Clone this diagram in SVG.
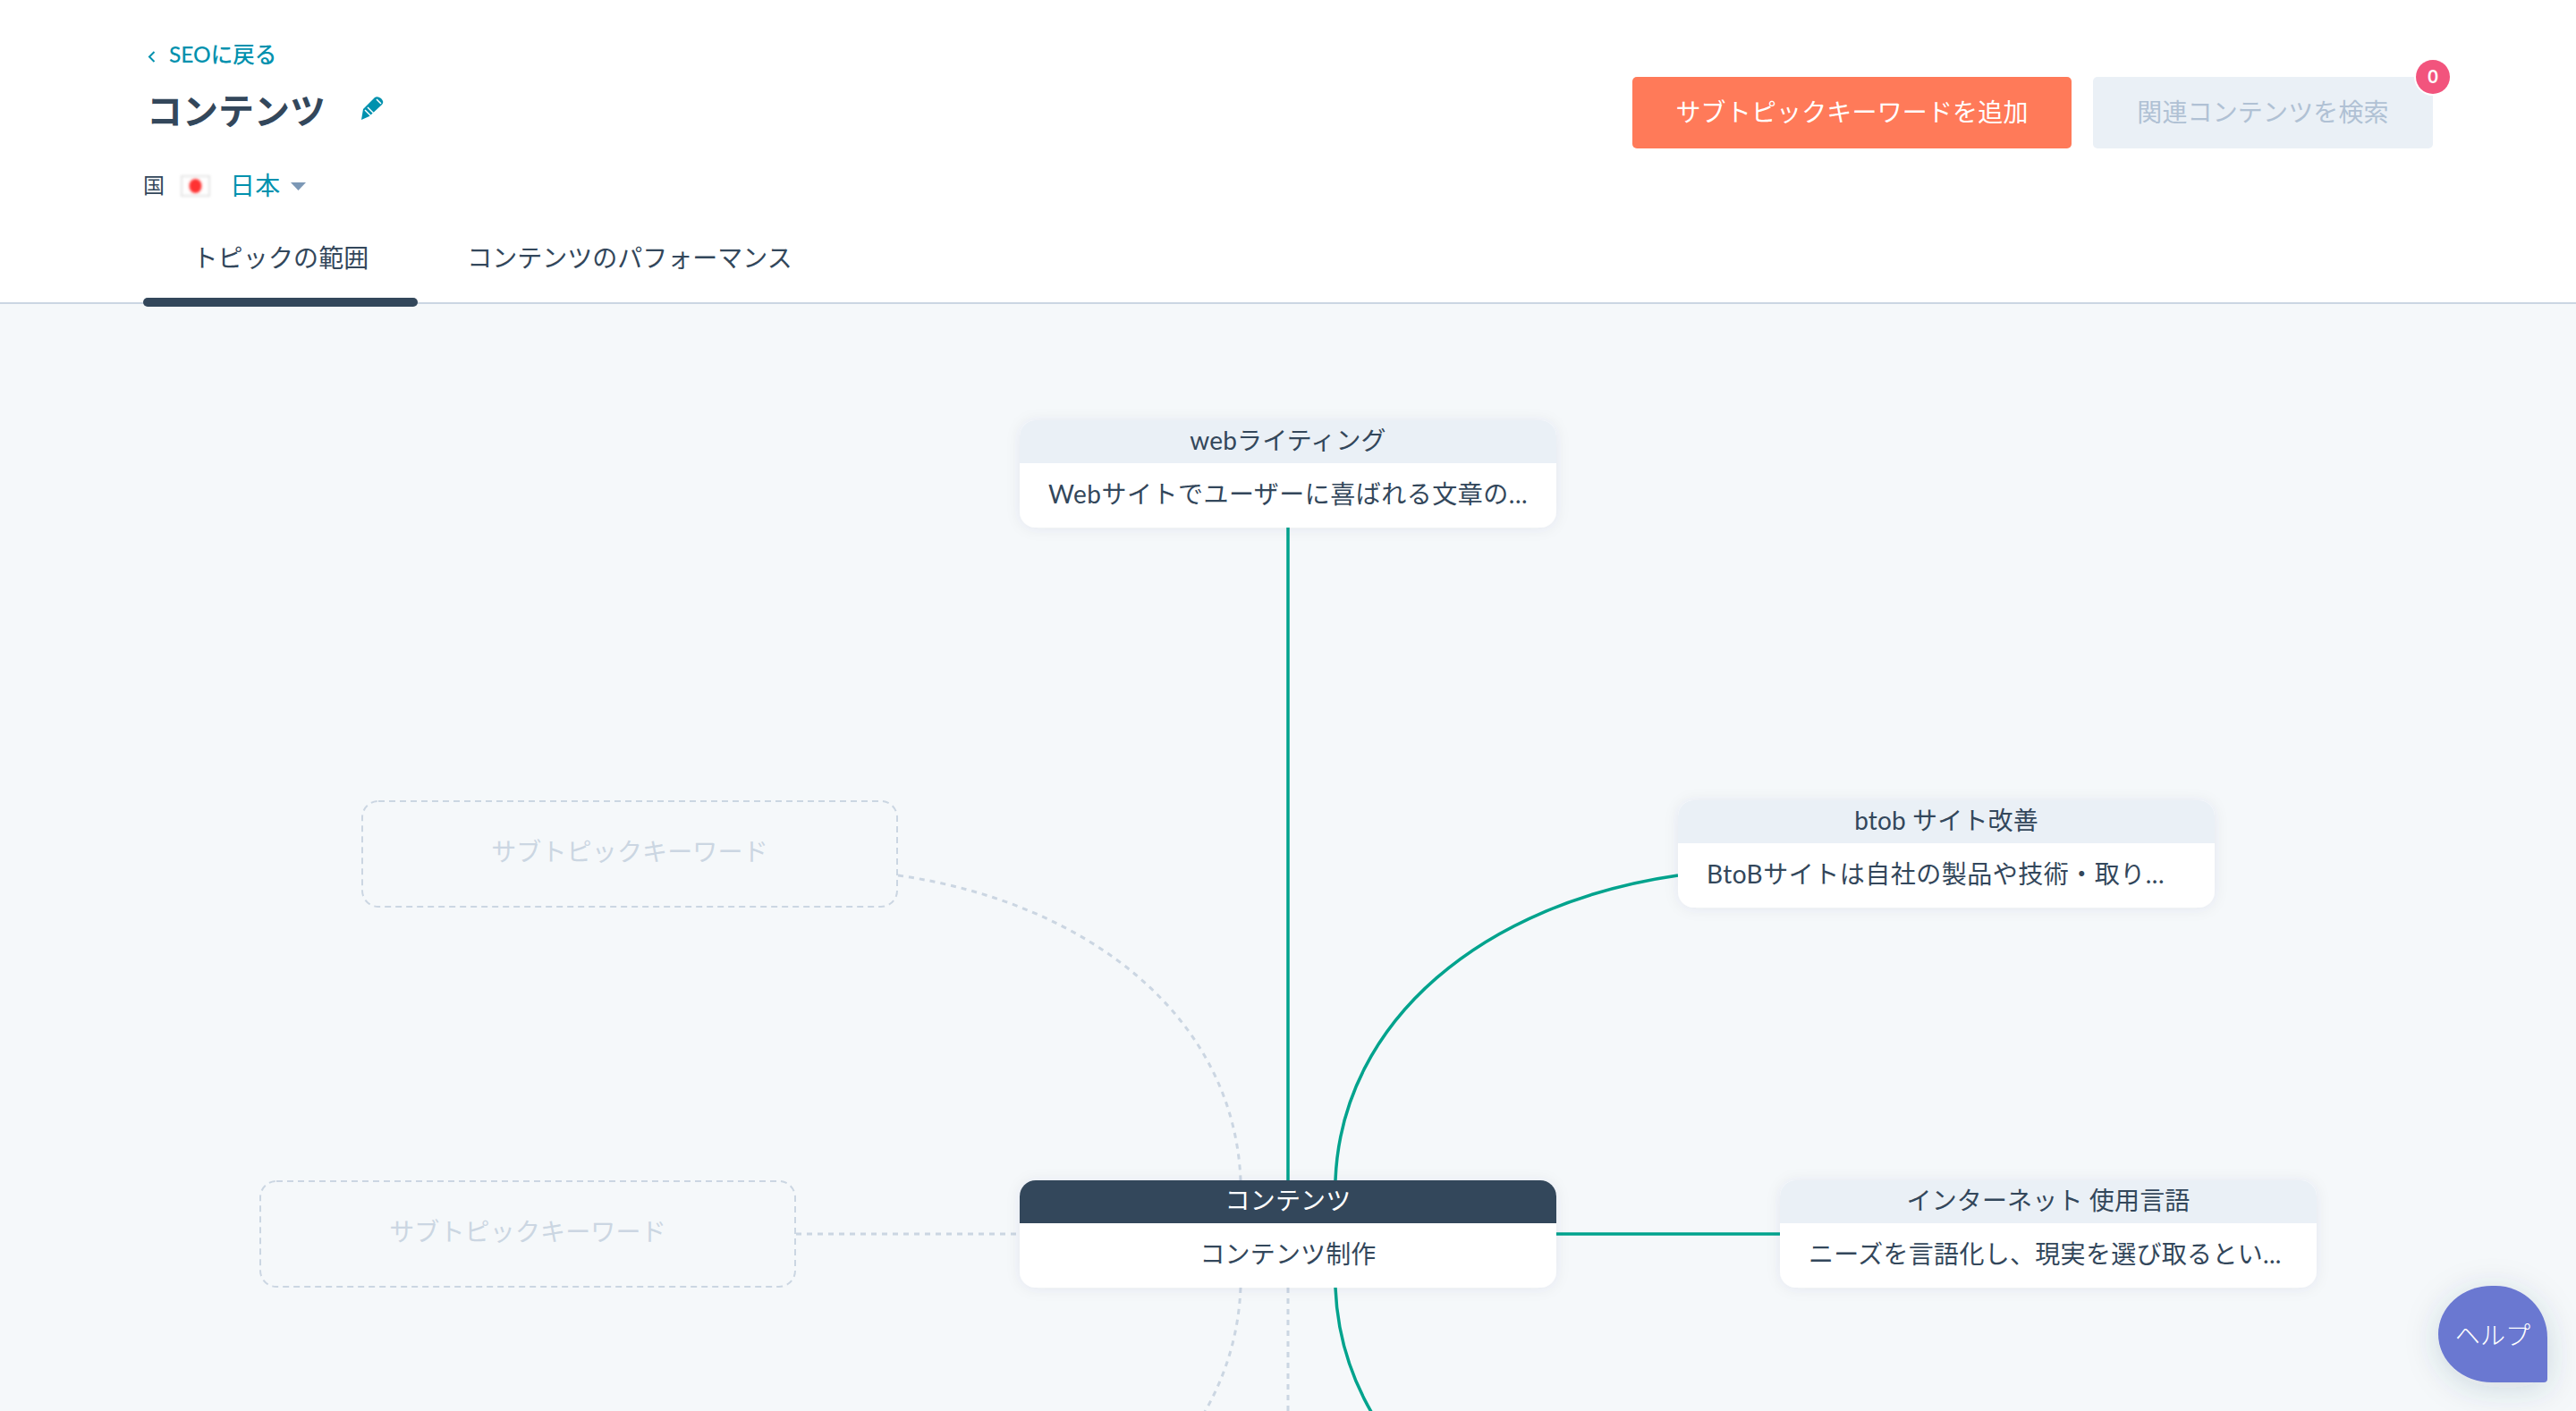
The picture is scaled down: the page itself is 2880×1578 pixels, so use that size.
<svg xmlns="http://www.w3.org/2000/svg" width="2880" height="1578" viewBox="0 0 2880 1578">
<style>
text{font-family:"Lato","Noto Sans CJK JP","Noto Sans",sans-serif;font-size:28px;fill:#33475b;font-weight:400;letter-spacing:.15px}
.m{text-anchor:middle}
.teal{fill:#0091ae}
.sub{fill:#cbd6e2}
.g{fill:none;stroke:#00a38d;stroke-width:3.500}
.d{fill:none;stroke:#cbd6e2;stroke-width:3;stroke-dasharray:6 6}
.ghost{fill:#f5f8fa;stroke:#cbd6e2;stroke-width:2;stroke-dasharray:7 5}
</style>
<defs>
<filter id="sh" x="-10%" y="-20%" width="120%" height="140%"><feDropShadow dx="0" dy="1" stdDeviation="8" flood-color="#33475b" flood-opacity="0.07"/></filter>
<filter id="hs" x="-60%" y="-60%" width="220%" height="220%"><feDropShadow dx="0" dy="6" stdDeviation="18" flood-color="#33475b" flood-opacity="0.18"/></filter>
<filter id="bl" x="-50%" y="-50%" width="200%" height="200%"><feGaussianBlur stdDeviation="1.500"/></filter>
<clipPath id="c1"><rect x="1140" y="470" width="600" height="120" rx="18"/></clipPath>
<clipPath id="c2"><rect x="1876" y="895" width="600" height="120" rx="18"/></clipPath>
<clipPath id="c3"><rect x="1990" y="1320" width="600" height="120" rx="18"/></clipPath>
<clipPath id="c4"><rect x="1140" y="1320" width="600" height="120" rx="18"/></clipPath>
</defs>
<rect width="2880" height="1578" fill="#f5f8fa"/>
<g id="header">
<rect width="2880" height="339" fill="#fff"/>
<rect y="338" width="2880" height="2" fill="#cbd6e2"/>
<path d="M172.500 58 L167 63.500 L172.500 69" fill="none" stroke="#0091ae" stroke-width="2"/>
<text class="teal" x="189" y="70" style="font-size:24.500px;font-weight:500;letter-spacing:0">SEOに戻る</text>
<text x="164" y="139" style="font-size:40px;font-weight:700;letter-spacing:0">コンテンツ</text>
<path d="M404 134 L406 122 L419 109 Q422 107 426 110 Q430 114 427 117 L413 130 Z" fill="#0091ae"/>
<path d="M408 123 L416 131 M411 120 L419 128 M421 111 L426 116" stroke="#fff" stroke-width="1.500" fill="none"/>
<text x="160" y="216" style="font-size:24px">国</text>
<rect x="203" y="197" width="31" height="22" fill="#fff" stroke="#e4e4e4" stroke-width="2" filter="url(#bl)"/>
<ellipse cx="218.500" cy="208" rx="7" ry="8" fill="#f33" filter="url(#bl)"/>
<text class="teal" x="257" y="218" style="font-size:28px">日本</text>
<path d="M325 204 H342 L333.500 213 Z" fill="#7c98b6"/>
<text class="m" x="314" y="299">トピックの範囲</text>
<text class="m" x="704" y="299" style="letter-spacing:0">コンテンツのパフォーマンス</text>
<rect x="160" y="333" width="307" height="10" rx="5" fill="#33475b"/>
</g>
<g id="btn-add">
<rect x="1825" y="86" width="491" height="80" rx="5" fill="#ff7a59"/>
<text class="m" x="2070.500" y="136" style="fill:#fff">サブトピックキーワードを追加</text>
</g>
<g id="btn-search">
<rect x="2340" y="86" width="380" height="80" rx="5" fill="#eaf0f6"/>
<text class="m" x="2530" y="136" style="fill:#b0c1d4">関連コンテンツを検索</text>
<circle cx="2720" cy="86" r="21" fill="#fff"/>
<circle cx="2720" cy="86" r="19" fill="#f2547d"/>
<text class="m" x="2720" y="93" style="fill:#fff;font-size:20px;font-weight:700">0</text>
</g>
<g id="connectors">
<path class="g" d="M1440 590 V1320"/>
<path class="g" d="M1876 979 C1660 1010 1500 1140 1493 1320"/>
<path class="g" d="M1740 1380 H1990"/>
<path class="g" d="M1493 1440 C1500 1620 1660 1750 1876 1781"/>
<path class="d" d="M1004 979 C1220 1010 1380 1140 1387 1320"/>
<path class="d" d="M890 1380 H1140"/>
<path class="d" d="M1387 1440 C1380 1620 1220 1750 1004 1781"/>
<path class="d" d="M1440 1440 V1578"/>
</g>
<g id="node-web">
<rect x="1140" y="470" width="600" height="120" rx="18" fill="#fff" filter="url(#sh)"/>
<rect x="1140" y="470" width="600" height="48" fill="#eaf0f6" clip-path="url(#c1)"/>
<text class="m" x="1440" y="503">webライティング</text>
<text x="1172" y="563" style="letter-spacing:.5px">Webサイトでユーザーに喜ばれる文章の...</text>
</g>
<g id="node-btob">
<rect x="1876" y="895" width="600" height="120" rx="18" fill="#fff" filter="url(#sh)"/>
<rect x="1876" y="895" width="600" height="48" fill="#eaf0f6" clip-path="url(#c2)"/>
<text class="m" x="2176" y="928">btob サイト改善</text>
<text x="1908" y="988" style="letter-spacing:.5px">BtoBサイトは自社の製品や技術・取り...</text>
</g>
<g id="node-net">
<rect x="1990" y="1320" width="600" height="120" rx="18" fill="#fff" filter="url(#sh)"/>
<rect x="1990" y="1320" width="600" height="48" fill="#eaf0f6" clip-path="url(#c3)"/>
<text class="m" x="2290" y="1353">インターネット 使用言語</text>
<text x="2022" y="1413" style="letter-spacing:.3px">ニーズを言語化し、現実を選び取るとい...</text>
</g>
<g id="node-center">
<rect x="1140" y="1320" width="600" height="120" rx="18" fill="#fff" filter="url(#sh)"/>
<rect x="1140" y="1320" width="600" height="48" fill="#33475b" clip-path="url(#c4)"/>
<text class="m" x="1440" y="1353" style="fill:#fff">コンテンツ</text>
<text class="m" x="1440" y="1413">コンテンツ制作</text>
</g>
<g id="node-ghost-1">
<rect class="ghost" x="405" y="896" width="598" height="118" rx="18"/>
<text class="m sub" x="704" y="963">サブトピックキーワード</text>
</g>
<g id="node-ghost-2">
<rect class="ghost" x="291" y="1321" width="598" height="118" rx="18"/>
<text class="m sub" x="590" y="1388">サブトピックキーワード</text>
</g>
<g id="help">
<path d="M2786 1438 H2790 A58 58 0 0 1 2848 1496 V1542 Q2848 1546 2844 1546 H2786 A60 54 0 0 1 2726 1492 A60 54 0 0 1 2786 1438 Z" fill="#6a78d1" filter="url(#hs)"/>
<text class="m" x="2787" y="1504" style="fill:#fff;font-weight:300">ヘルプ</text>
</g>
</svg>
